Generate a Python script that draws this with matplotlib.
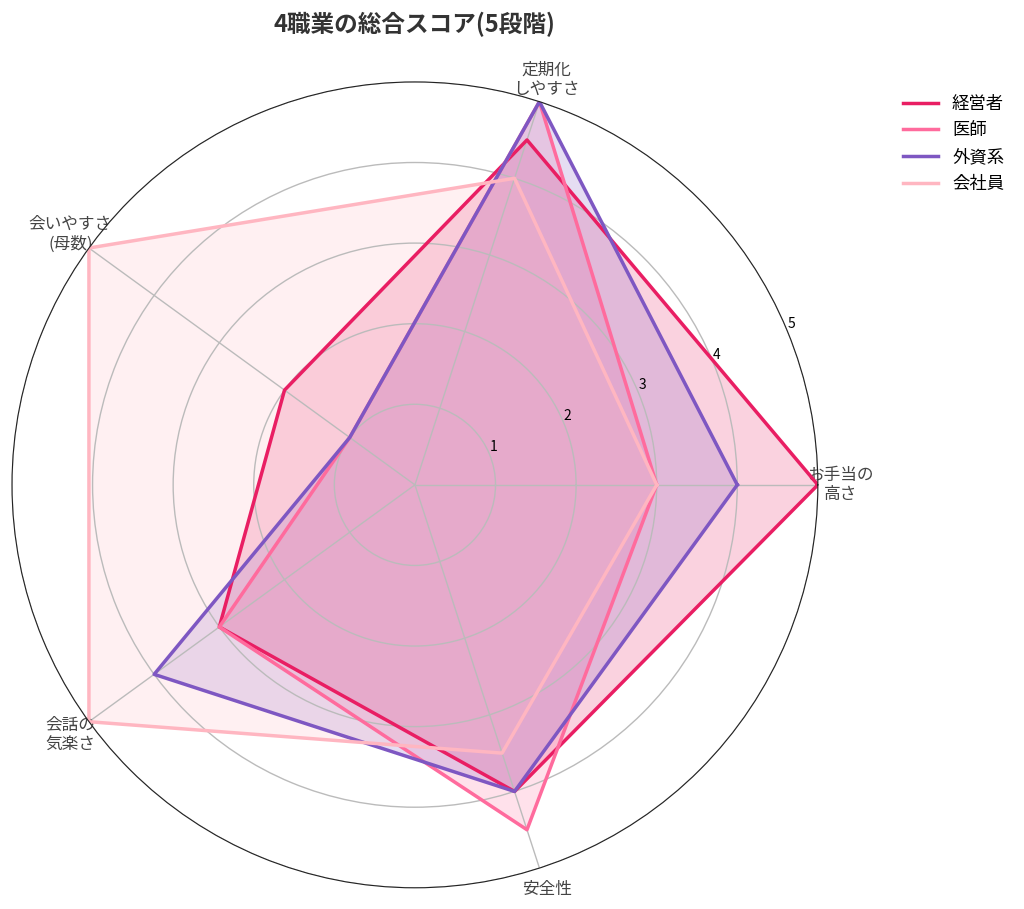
import numpy as np
import matplotlib.pyplot as plt

plt.rcParams['font.family'] = ['Noto Sans CJK JP', 'DejaVu Sans']

# 評価項目
categories = ["お手当の\n高さ", "定期化\nしやすさ", "会いやすさ\n(母数)", "会話の\n気楽さ", "安全性"]

# 職業ごとのスコア
jobs = ["経営者", "医師", "外資系", "会社員"]
keieisha = [5, 4.5, 2, 3, 4]
ishi = [3, 5, 1, 3, 4.5]
gaishikei = [4, 5, 1, 4, 4]
kaishain = [3, 4, 5, 5, 3.5]
scores = [keieisha, ishi, gaishikei, kaishain]
colors = ["#e91e63", "#ff6b9d", "#7e57c2", "#ffb6c1"]

angles = np.linspace(0, 2 * np.pi, len(categories), endpoint=False)
angles_closed = np.concatenate([angles, angles[:1]])

fig = plt.figure(figsize=(10.24, 9.09), dpi=100)
ax = fig.add_axes([0.0117, 0.0231, 0.787, 0.887], projection="polar")

for name, vals, col in zip(jobs, scores, colors):
    v = vals + vals[:1]
    ax.plot(angles_closed, v, color=col, linewidth=2.5, label=name)
    ax.fill(angles_closed, v, color=col, alpha=0.2)

ax.set_ylim(0, 5)
ax.set_yticks([1, 2, 3, 4, 5])
ax.set_yticklabels(["1", "2", "3", "4", "5"], fontsize=10)
ax.set_xticks(angles)
ax.set_xticklabels(categories, fontsize=12, color="#444444")
ax.tick_params(axis="x", pad=6)
ax.grid(color="#bbbbbb", linewidth=1)
ax.spines["polar"].set_color("#222222")

ax.set_title("4職業の総合スコア(5段階)", fontsize=17, fontweight="bold",
             color="#333333", pad=36)

fig.legend(loc="upper left", bbox_to_anchor=(0.867, 0.913), frameon=False,
           fontsize=12.5, handlelength=2.0)

plt.savefig("out.png", dpi=100)
